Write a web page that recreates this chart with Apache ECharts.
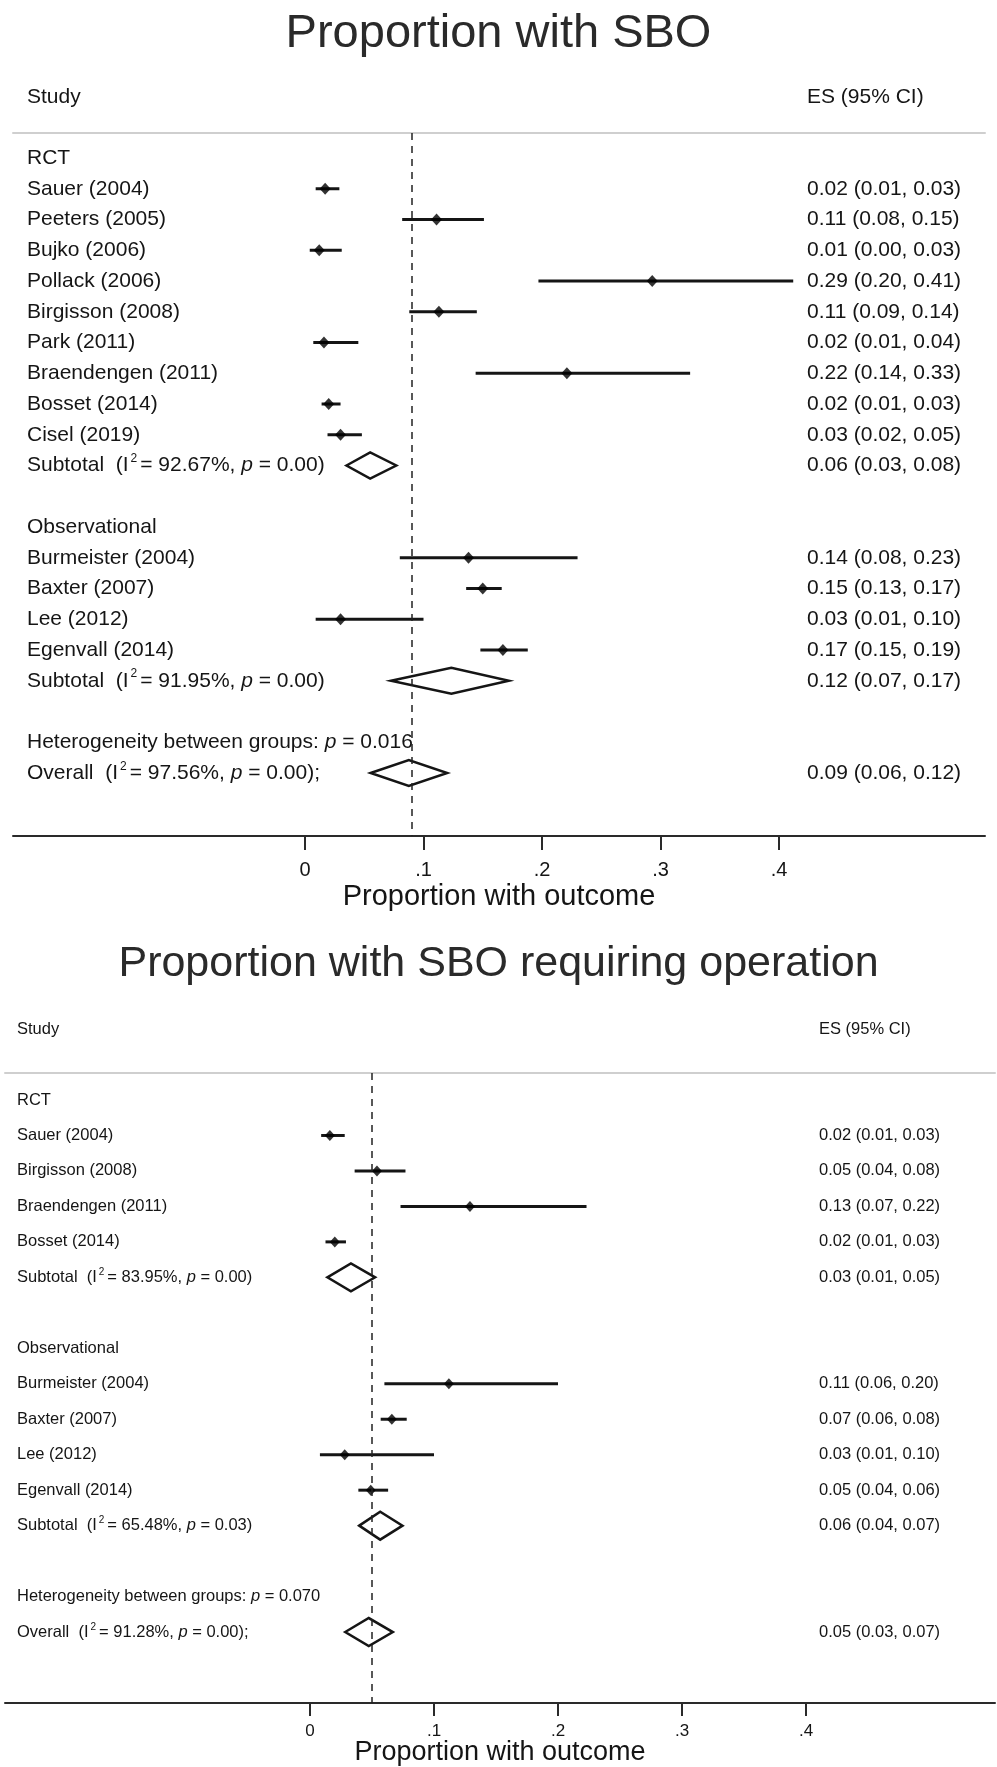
<!DOCTYPE html>
<html><head><meta charset="utf-8">
<script src="https://cdn.jsdelivr.net/npm/echarts@6/dist/echarts.min.js"></script>
<style>html,body{margin:0;padding:0;background:#fff}#c{width:997px;height:1767px}</style>
</head><body><div id="c"></div>
<script>
// ---------- Panel 1: Proportion with SBO ----------
const sboStudies = ['Sauer (2004)','Peeters (2005)','Bujko (2006)','Pollack (2006)','Birgisson (2008)','Park (2011)','Braendengen (2011)','Bosset (2014)','Cisel (2019)','Burmeister (2004)','Baxter (2007)','Lee (2012)','Egenvall (2014)'];
const sboDesign = ['RCT','RCT','RCT','RCT','RCT','RCT','RCT','RCT','RCT','Observational','Observational','Observational','Observational'];
const sboEs = [0.017,0.111,0.012,0.293,0.113,0.016,0.221,0.020,0.030,0.138,0.150,0.030,0.167];
const sboLo = [0.009,0.082,0.004,0.197,0.088,0.007,0.144,0.014,0.019,0.080,0.136,0.009,0.148];
const sboHi = [0.029,0.151,0.031,0.412,0.145,0.045,0.325,0.030,0.048,0.230,0.166,0.100,0.188];
const sboEsText = ['0.02 (0.01, 0.03)','0.11 (0.08, 0.15)','0.01 (0.00, 0.03)','0.29 (0.20, 0.41)','0.11 (0.09, 0.14)','0.02 (0.01, 0.04)','0.22 (0.14, 0.33)','0.02 (0.01, 0.03)','0.03 (0.02, 0.05)','0.14 (0.08, 0.23)','0.15 (0.13, 0.17)','0.03 (0.01, 0.10)','0.17 (0.15, 0.19)'];
const sboPooledEs = [0.055,0.1235,0.0876];
const sboPooledLo = [0.035,0.0726,0.0554];
const sboPooledHi = [0.077,0.172,0.120];
const sboPooledI2 = ['92.67%','91.95%','97.56%'];
const sboPooledP = ['0.00','0.00','0.00'];
const sboPooledText = ['0.06 (0.03, 0.08)','0.12 (0.07, 0.17)','0.09 (0.06, 0.12)'];
const sboHetP = '0.016';

// ---------- Panel 2: Proportion with SBO requiring operation ----------
const opStudies = ['Sauer (2004)','Birgisson (2008)','Braendengen (2011)','Bosset (2014)','Burmeister (2004)','Baxter (2007)','Lee (2012)','Egenvall (2014)'];
const opDesign = ['RCT','RCT','RCT','RCT','Observational','Observational','Observational','Observational'];
const opEs = [0.016,0.054,0.129,0.020,0.112,0.066,0.028,0.049];
const opLo = [0.009,0.036,0.073,0.0125,0.060,0.057,0.008,0.039];
const opHi = [0.028,0.077,0.223,0.029,0.200,0.078,0.100,0.063];
const opEsText = ['0.02 (0.01, 0.03)','0.05 (0.04, 0.08)','0.13 (0.07, 0.22)','0.02 (0.01, 0.03)','0.11 (0.06, 0.20)','0.07 (0.06, 0.08)','0.03 (0.01, 0.10)','0.05 (0.04, 0.06)'];
const opPooledEs = [0.033,0.0566,0.0474];
const opPooledLo = [0.014,0.0397,0.0284];
const opPooledHi = [0.0525,0.0746,0.0668];
const opPooledI2 = ['83.95%','65.48%','91.28%'];
const opPooledP = ['0.00','0.03','0.00'];
const opPooledText = ['0.03 (0.01, 0.05)','0.06 (0.04, 0.07)','0.05 (0.03, 0.07)'];
const opHetP = '0.070';

const groups = ['RCT','Observational'];
const tickValues = [0, 0.1, 0.2, 0.3, 0.4];
const tickLabels = ['0', '.1', '.2', '.3', '.4'];
const axisTitle = 'Proportion with outcome';
const titles = ['Proportion with SBO', 'Proportion with SBO requiring operation'];

const FONT = 'Liberation Sans, Arial, Helvetica, sans-serif';
const INK = '#151515';

function buildRows(studies, design, es, lo, hi, esText, pEs, pLo, pHi, pI2, pP, pText, hetP) {
  const rows = [];
  groups.forEach((g, gi) => {
    rows.push({ left: '{n|' + g + '}', right: '' });
    studies.forEach((s, i) => {
      if (design[i] === g) rows.push({ left: '{n|' + s + '}', right: esText[i], kind: 'study', es: es[i], lo: lo[i], hi: hi[i] });
    });
    rows.push({ left: '{n|Subtotal  (I}{s|2}{n|= ' + pI2[gi] + ', }{i|p}{n| = ' + pP[gi] + ')}', right: pText[gi], kind: 'pooled', es: pEs[gi], lo: pLo[gi], hi: pHi[gi] });
    rows.push({ left: '', right: '' });
  });
  rows.push({ left: '{n|Heterogeneity between groups: }{i|p}{n| = ' + hetP + '}', right: '' });
  rows.push({ left: '{n|Overall  (I}{s|2}{n|= ' + pI2[2] + ', }{i|p}{n| = ' + pP[2] + ');}', right: pText[2], kind: 'pooled', es: pEs[2], lo: pLo[2], hi: pHi[2] });
  return rows;
}

const panels = [
  { rows: buildRows(sboStudies, sboDesign, sboEs, sboLo, sboHi, sboEsText, sboPooledEs, sboPooledLo, sboPooledHi, sboPooledI2, sboPooledP, sboPooledText, sboHetP),
    overall: sboPooledEs[2],
    L: { gl: 13, gr: 985, top: 133, axisY: 836, x0: 305, ppu: 1185, row0: 158, step: 30.75,
         fs: 21, sup: 12, tickFs: 20, nameFs: 29, tickLen: 14, labMargin: 24, nameGap: 46,
         rightX: 807, leftX: 27, ciW: 3, dotW: 11, dotH: 12, diaH: 13, diaW: 2.5 } },
  { rows: buildRows(opStudies, opDesign, opEs, opLo, opHi, opEsText, opPooledEs, opPooledLo, opPooledHi, opPooledI2, opPooledP, opPooledText, opHetP),
    overall: opPooledEs[2],
    L: { gl: 5, gr: 995, top: 1073, axisY: 1703, x0: 310, ppu: 1240, row0: 1100, step: 35.47,
         fs: 16.5, sup: 10, tickFs: 17, nameFs: 27, tickLen: 13, labMargin: 20, nameGap: 36,
         rightX: 819, leftX: 17, ciW: 3, dotW: 10, dotH: 11, diaH: 14, diaW: 2.5 } }
];

const W = 997, H = 1767;
const option = {
  animation: false,
  backgroundColor: '#fff',
  title: [], grid: [], xAxis: [], yAxis: [], series: []
};

panels.forEach((P, k) => {
  const L = P.L;
  const rows = P.rows;
  const rowIdx = rows.map((r, i) => i);
  option.grid.push({ left: L.gl, width: L.gr - L.gl, top: L.top, height: L.axisY - L.top, containLabel: false, outerBoundsMode: 'none' });
  const xMin = (L.gl - L.x0) / L.ppu, xMax = (L.gr - L.x0) / L.ppu;
  const yMin = (L.top - L.row0) / L.step, yMax = (L.axisY - L.row0) / L.step;
  // bottom value axis
  option.xAxis.push({
    type: 'value', gridIndex: k, position: 'bottom', min: xMin, max: xMax,
    axisLine: { show: true, onZero: false, lineStyle: { color: '#2a2a2a', width: 2 } },
    axisTick: { show: true, customValues: tickValues, length: L.tickLen, lineStyle: { color: '#2a2a2a', width: 2 } },
    axisLabel: { customValues: tickValues, margin: L.labMargin, fontSize: L.tickFs, fontFamily: FONT, color: INK,
      formatter: v => { const i = tickValues.findIndex(t => Math.abs(t - v) < 1e-9); return i >= 0 ? tickLabels[i] : ''; } },
    splitLine: { show: false },
    name: axisTitle, nameLocation: 'middle', nameGap: L.nameGap, nameMoveOverlap: false,
    nameTextStyle: { fontSize: L.nameFs, fontFamily: FONT, color: INK, verticalAlign: 'top' }
  });
  // top rule
  option.xAxis.push({
    type: 'value', gridIndex: k, position: 'top', min: xMin, max: xMax,
    axisLine: { show: true, onZero: false, lineStyle: { color: '#cfcfcf', width: 2 } },
    axisTick: { show: false }, axisLabel: { show: false }, splitLine: { show: false }
  });
  const rich = {
    n: { fontSize: L.fs, fontFamily: FONT, color: INK, lineHeight: L.fs * 1.2 },
    s: { fontSize: L.sup, fontFamily: FONT, color: INK, verticalAlign: 'top', lineHeight: L.sup, padding: [0, 3, 0, 2] },
    i: { fontSize: L.fs, fontFamily: FONT, color: INK, fontStyle: 'italic', lineHeight: L.fs * 1.2 }
  };
  // left label axis (study names)
  option.yAxis.push({
    type: 'value', gridIndex: k, position: 'left', inverse: true, min: yMin, max: yMax,
    axisLine: { show: false }, axisTick: { show: false }, splitLine: { show: false },
    axisLabel: { customValues: rowIdx, align: 'left', margin: L.gl - L.leftX, rich: rich,
      formatter: v => { const r = rows[Math.round(v)]; return r ? r.left : ''; } }
  });
  // right label axis (ES text)
  option.yAxis.push({
    type: 'value', gridIndex: k, position: 'right', inverse: true, min: yMin, max: yMax,
    axisLine: { show: false }, axisTick: { show: false }, splitLine: { show: false },
    axisLabel: { customValues: rowIdx, align: 'left', margin: L.rightX - L.gr, fontSize: L.fs, fontFamily: FONT, color: INK,
      formatter: v => { const r = rows[Math.round(v)]; return r ? r.right : ''; } }
  });

  const studyCI = [], studyPts = [], pooled = [];
  rows.forEach((r, i) => {
    if (r.kind === 'study') { studyCI.push([r.lo, r.hi, i]); studyPts.push([r.es, i]); }
    if (r.kind === 'pooled') pooled.push([r.lo, r.es, r.hi, i]);
  });
  const xi = k * 2, yi = k * 2;
  option.series.push({
    type: 'custom', xAxisIndex: xi, yAxisIndex: yi, silent: true,
    data: studyCI, encode: { x: [0, 1], y: 2 },
    renderItem: (params, api) => {
      const a = api.coord([api.value(0), api.value(2)]);
      const b = api.coord([api.value(1), api.value(2)]);
      return { type: 'line', shape: { x1: a[0], y1: a[1], x2: b[0], y2: b[1] }, style: { stroke: INK, lineWidth: L.ciW } };
    }
  });
  option.series.push({
    type: 'scatter', xAxisIndex: xi, yAxisIndex: yi, silent: true,
    data: studyPts, symbol: 'diamond', symbolSize: [L.dotW, L.dotH],
    itemStyle: { color: '#000' },
    markLine: { silent: true, symbol: ['none', 'none'], label: { show: false },
      lineStyle: { type: [7, 6], color: '#222', width: 1.5 },
      data: [{ xAxis: P.overall }] }
  });
  option.series.push({
    type: 'custom', xAxisIndex: xi, yAxisIndex: yi, silent: true,
    data: pooled, encode: { x: [0, 1, 2], y: 3 },
    renderItem: (params, api) => {
      const row = api.value(3);
      const a = api.coord([api.value(0), row]);
      const c = api.coord([api.value(1), row]);
      const b = api.coord([api.value(2), row]);
      return { type: 'polygon',
        shape: { points: [[a[0], a[1]], [c[0], c[1] - L.diaH], [b[0], b[1]], [c[0], c[1] + L.diaH]] },
        style: { fill: 'rgba(0,0,0,0)', stroke: INK, lineWidth: L.diaW, lineJoin: 'miter' } };
    }
  });
});

// Titles and column headers
option.title = [
  { text: titles[0], left: 'center', top: 11, padding: 0, textStyle: { fontSize: 47, fontWeight: 'normal', fontFamily: FONT, color: '#2a2a2a' } },
  { text: 'Study', left: 27, top: 87, padding: 0, textStyle: { fontSize: 21, fontWeight: 'normal', fontFamily: FONT, color: INK } },
  { text: 'ES (95% CI)', left: 807, top: 87, padding: 0, textStyle: { fontSize: 21, fontWeight: 'normal', fontFamily: FONT, color: INK } },
  { text: titles[1], left: 'center', top: 943, padding: 0, textStyle: { fontSize: 43, fontWeight: 'normal', fontFamily: FONT, color: '#2a2a2a' } },
  { text: 'Study', left: 17, top: 1021, padding: 0, textStyle: { fontSize: 16.5, fontWeight: 'normal', fontFamily: FONT, color: INK } },
  { text: 'ES (95% CI)', left: 819, top: 1021, padding: 0, textStyle: { fontSize: 16.5, fontWeight: 'normal', fontFamily: FONT, color: INK } }
];

const chart = echarts.init(document.getElementById('c'), null, { renderer: 'canvas', width: W, height: H });
chart.setOption(option);
</script>
</body></html>
